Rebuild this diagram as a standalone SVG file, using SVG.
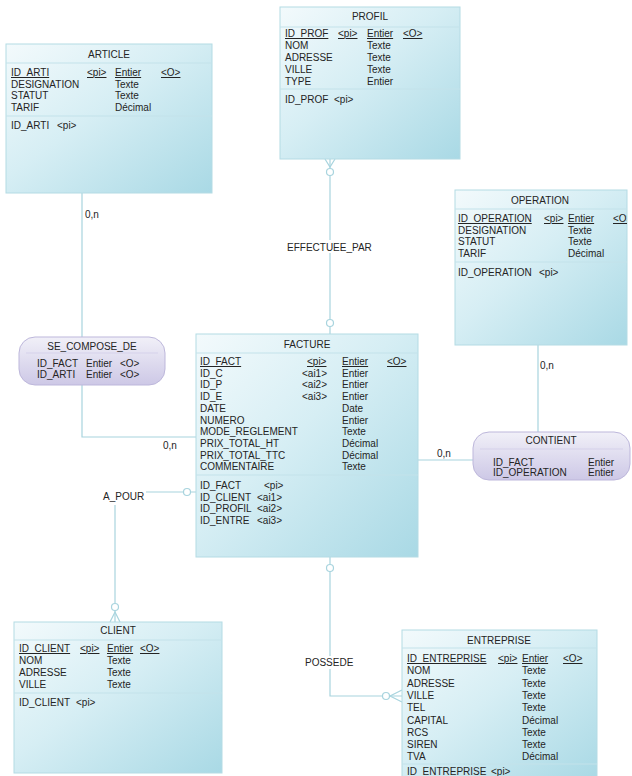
<svg xmlns="http://www.w3.org/2000/svg" width="632" height="776" viewBox="0 0 632 776">
<defs>
<linearGradient id="gEnt" x1="0" y1="0" x2="1" y2="1">
<stop offset="0" stop-color="#f3fafc"/>
<stop offset="0.45" stop-color="#d6eef4"/>
<stop offset="1" stop-color="#a9d9e5"/>
</linearGradient>
<linearGradient id="gAsc" x1="0" y1="0" x2="0" y2="1">
<stop offset="0" stop-color="#f1f0f8"/>
<stop offset="1" stop-color="#cdc8e6"/>
</linearGradient>
<clipPath id="clipOp"><rect x="455" y="190" width="172" height="155"/></clipPath>
</defs>
<style>
text{font-family:"Liberation Sans",Arial,sans-serif;font-size:10px;fill:#242424}
.t{text-anchor:middle}
.u{text-decoration:underline}
.box{fill:url(#gEnt);stroke:#b4dbe4;stroke-width:1}
.asc{fill:url(#gAsc);stroke:#bdb7db;stroke-width:1}
.sep{stroke:#c3e2ea;stroke-width:1}
.sepa{stroke:#d5d1ea;stroke-width:1}
.c{fill:none;stroke:#a8d4de;stroke-width:1.2}
.o{fill:#ffffff;stroke:#a8d4de;stroke-width:1.2}
.lbl{fill:#ffffff}
</style>

<g id="connectors">
<polyline class="c" points="82,193 82,437 196,437"/>
<line class="c" x1="330" y1="159" x2="330" y2="334"/>
<polyline class="c" points="325,159 330,167 335,159"/>
<circle class="o" cx="330" cy="172" r="3.5"/>
<circle class="o" cx="330" cy="323" r="3.5"/>
<polyline class="c" points="538,345 538,460 418,460"/>
<line class="c" x1="146" y1="492" x2="196" y2="492"/>
<line class="c" x1="115" y1="505" x2="115" y2="622"/>
<circle class="o" cx="187" cy="492" r="3.5"/>
<circle class="o" cx="115" cy="607" r="3.5"/>
<polyline class="c" points="110,622 115,612 120,622"/>
<polyline class="c" points="330,557 330,696 402,696"/>
<circle class="o" cx="330" cy="568" r="3.5"/>
<circle class="o" cx="386" cy="696" r="3.5"/>
<polyline class="c" points="402,690 390,696 402,702"/>
<text x="85" y="218">0,n</text>
<rect class="lbl" x="285" y="240" width="90" height="13"/>
<text x="287" y="251">EFFECTUEE_PAR</text>
<text x="540" y="369">0,n</text>
<text x="163" y="449">0,n</text>
<text x="437" y="457">0,n</text>
<text x="103" y="500">A_POUR</text>
<rect class="lbl" x="303" y="656" width="53" height="13"/>
<text x="305" y="666">POSSEDE</text>
</g>

<g id="article">
<rect class="box" x="6" y="44" width="206" height="149"/>
<line class="sep" x1="6" y1="63" x2="212" y2="63"/>
<line class="sep" x1="6" y1="116" x2="212" y2="116"/>
<text class="t" x="109" y="58">ARTICLE</text>
<text class="u" x="11" y="76">ID_ARTI</text><text class="u" x="87" y="76">&lt;pi&gt;</text><text class="u" x="115" y="76">Entier</text><text class="u" x="161" y="76">&lt;O&gt;</text>
<text x="11" y="87.6">DESIGNATION</text><text x="115" y="87.6">Texte</text>
<text x="11" y="99.2">STATUT</text><text x="115" y="99.2">Texte</text>
<text x="11" y="110.8">TARIF</text><text x="115" y="110.8">Décimal</text>
<text x="11" y="129">ID_ARTI</text><text x="57" y="129">&lt;pi&gt;</text>
</g>

<g id="profil">
<rect class="box" x="280" y="7" width="180" height="152"/>
<line class="sep" x1="280" y1="27" x2="460" y2="27"/>
<line class="sep" x1="280" y1="89" x2="460" y2="89"/>
<text class="t" x="370" y="20">PROFIL</text>
<text class="u" x="285" y="37">ID_PROF</text><text class="u" x="338" y="37">&lt;pi&gt;</text><text class="u" x="367" y="37">Entier</text><text class="u" x="403" y="37">&lt;O&gt;</text>
<text x="285" y="49">NOM</text><text x="367" y="49">Texte</text>
<text x="285" y="61">ADRESSE</text><text x="367" y="61">Texte</text>
<text x="285" y="73">VILLE</text><text x="367" y="73">Texte</text>
<text x="285" y="85">TYPE</text><text x="367" y="85">Entier</text>
<text x="285" y="103">ID_PROF</text><text x="334" y="103">&lt;pi&gt;</text>
</g>

<g id="operation">
<rect class="box" x="455" y="190" width="172" height="155"/>
<line class="sep" x1="455" y1="209" x2="627" y2="209"/>
<line class="sep" x1="455" y1="262" x2="627" y2="262"/>
<text class="t" x="540" y="204">OPERATION</text>
<g clip-path="url(#clipOp)">
<text class="u" x="458" y="222">ID_OPERATION</text><text class="u" x="544" y="222">&lt;pi&gt;</text><text class="u" x="568" y="222">Entier</text><text class="u" x="613" y="222">&lt;O&gt;</text>
</g>
<text x="458" y="233.5">DESIGNATION</text><text x="568" y="233.5">Texte</text>
<text x="458" y="245">STATUT</text><text x="568" y="245">Texte</text>
<text x="458" y="256.5">TARIF</text><text x="568" y="256.5">Décimal</text>
<text x="458" y="276">ID_OPERATION</text><text x="539" y="276">&lt;pi&gt;</text>
</g>

<g id="facture">
<rect class="box" x="196" y="334" width="222" height="223"/>
<line class="sep" x1="196" y1="353" x2="418" y2="353"/>
<line class="sep" x1="196" y1="475" x2="418" y2="475"/>
<text class="t" x="307" y="348">FACTURE</text>
<text class="u" x="200" y="365">ID_FACT</text><text class="u" x="307" y="365">&lt;pi&gt;</text><text class="u" x="342" y="365">Entier</text><text class="u" x="387" y="365">&lt;O&gt;</text>
<text x="200" y="376.7">ID_C</text><text x="302" y="376.7">&lt;ai1&gt;</text><text x="342" y="376.7">Entier</text>
<text x="200" y="388.4">ID_P</text><text x="302" y="388.4">&lt;ai2&gt;</text><text x="342" y="388.4">Entier</text>
<text x="200" y="400.1">ID_E</text><text x="302" y="400.1">&lt;ai3&gt;</text><text x="342" y="400.1">Entier</text>
<text x="200" y="411.8">DATE</text><text x="342" y="411.8">Date</text>
<text x="200" y="423.5">NUMERO</text><text x="342" y="423.5">Entier</text>
<text x="200" y="435.2">MODE_REGLEMENT</text><text x="342" y="435.2">Texte</text>
<text x="200" y="446.9">PRIX_TOTAL_HT</text><text x="342" y="446.9">Décimal</text>
<text x="200" y="458.6">PRIX_TOTAL_TTC</text><text x="342" y="458.6">Décimal</text>
<text x="200" y="470.3">COMMENTAIRE</text><text x="342" y="470.3">Texte</text>
<text x="200" y="489">ID_FACT</text><text x="264" y="489">&lt;pi&gt;</text>
<text x="200" y="500.7">ID_CLIENT</text><text x="257" y="500.7">&lt;ai1&gt;</text>
<text x="200" y="512.4">ID_PROFIL</text><text x="257" y="512.4">&lt;ai2&gt;</text>
<text x="200" y="524.1">ID_ENTRE</text><text x="257" y="524.1">&lt;ai3&gt;</text>
</g>

<g id="se_compose_de">
<rect class="asc" x="19" y="337" width="146" height="48" rx="16" ry="16"/>
<line class="sepa" x1="26" y1="353" x2="158" y2="353"/>
<text class="t" x="92" y="350">SE_COMPOSE_DE</text>
<text x="37" y="367">ID_FACT</text><text x="86" y="367">Entier</text><text x="120" y="367">&lt;O&gt;</text>
<text x="37" y="378">ID_ARTI</text><text x="86" y="378">Entier</text><text x="120" y="378">&lt;O&gt;</text>
</g>

<g id="contient">
<rect class="asc" x="473" y="432" width="157" height="48" rx="16" ry="16"/>
<line class="sepa" x1="480" y1="449" x2="623" y2="449"/>
<text class="t" x="551" y="444">CONTIENT</text>
<text x="493" y="466">ID_FACT</text><text x="588" y="466">Entier</text>
<text x="493" y="476">ID_OPERATION</text><text x="588" y="476">Entier</text>
</g>

<g id="client">
<rect class="box" x="14" y="622" width="208" height="151"/>
<line class="sep" x1="14" y1="640" x2="222" y2="640"/>
<line class="sep" x1="14" y1="693" x2="222" y2="693"/>
<text class="t" x="118" y="634">CLIENT</text>
<text class="u" x="19" y="652">ID_CLIENT</text><text class="u" x="80" y="652">&lt;pi&gt;</text><text class="u" x="107" y="652">Entier</text><text class="u" x="140" y="652">&lt;O&gt;</text>
<text x="19" y="664">NOM</text><text x="107" y="664">Texte</text>
<text x="19" y="676">ADRESSE</text><text x="107" y="676">Texte</text>
<text x="19" y="688">VILLE</text><text x="107" y="688">Texte</text>
<text x="19" y="706">ID_CLIENT</text><text x="76" y="706">&lt;pi&gt;</text>
</g>

<g id="entreprise">
<rect class="box" x="402" y="630" width="195" height="150"/>
<line class="sep" x1="402" y1="648" x2="597" y2="648"/>
<line class="sep" x1="402" y1="764" x2="597" y2="764"/>
<text class="t" x="499" y="644">ENTREPRISE</text>
<text class="u" x="407" y="662">ID_ENTREPRISE</text><text class="u" x="498" y="662">&lt;pi&gt;</text><text class="u" x="522" y="662">Entier</text><text class="u" x="563" y="662">&lt;O&gt;</text>
<text x="407" y="674.3">NOM</text><text x="522" y="674.3">Texte</text>
<text x="407" y="686.6">ADRESSE</text><text x="522" y="686.6">Texte</text>
<text x="407" y="698.9">VILLE</text><text x="522" y="698.9">Texte</text>
<text x="407" y="711.2">TEL</text><text x="522" y="711.2">Texte</text>
<text x="407" y="723.5">CAPITAL</text><text x="522" y="723.5">Décimal</text>
<text x="407" y="735.8">RCS</text><text x="522" y="735.8">Texte</text>
<text x="407" y="748.1">SIREN</text><text x="522" y="748.1">Texte</text>
<text x="407" y="760.4">TVA</text><text x="522" y="760.4">Décimal</text>
<text x="407" y="775">ID_ENTREPRISE</text><text x="491" y="775">&lt;pi&gt;</text>
</g>
</svg>
